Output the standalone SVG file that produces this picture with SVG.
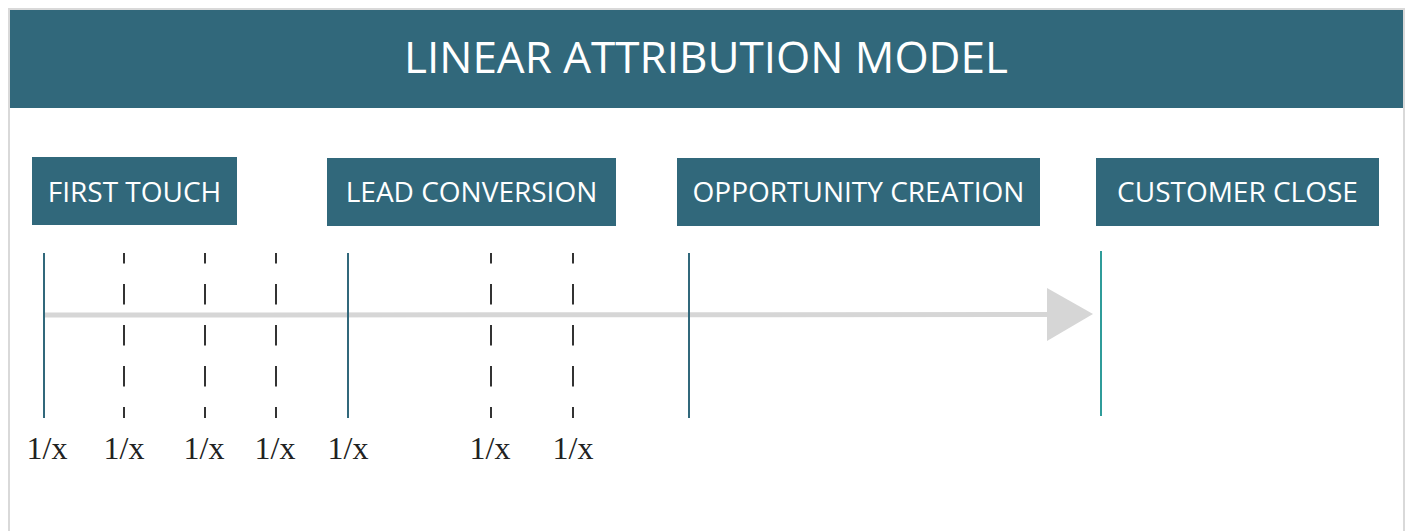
<svg xmlns="http://www.w3.org/2000/svg" width="1408" height="531" viewBox="0 0 1408 531">
  <style>
    .stage rect { fill: #31687b; }
    .stage text { fill: #ffffff; font-family: "Open Sans", "Liberation Sans", sans-serif; font-size: 28px; text-anchor: middle; }
    .mark { stroke: #31687b; stroke-width: 2; }
    .touch { stroke: #333333; stroke-width: 2; stroke-dasharray: 20.5 20.5; stroke-dashoffset: 10; }
    .share { fill: #222222; font-family: "Liberation Serif", serif; font-size: 32px; text-anchor: middle; }
  </style>

  <!-- card frame -->
  <rect x="9" y="9" width="1395" height="530" fill="#ffffff" stroke="#d9d9d9" stroke-width="2"/>

  <!-- title bar -->
  <g id="title">
    <rect x="10" y="10" width="1393" height="98" fill="#31687b"/>
    <text x="706" y="73" fill="#ffffff" font-family="Open Sans, Liberation Sans, sans-serif" font-size="44" text-anchor="middle">LINEAR ATTRIBUTION MODEL</text>
  </g>

  <!-- funnel stages -->
  <g id="first-touch" class="stage">
    <rect x="32" y="157" width="205" height="68"/>
    <text x="134.5" y="201.5">FIRST TOUCH</text>
  </g>
  <g id="lead-conversion" class="stage">
    <rect x="327" y="158" width="289" height="68"/>
    <text x="471.5" y="201.5">LEAD CONVERSION</text>
  </g>
  <g id="opportunity-creation" class="stage">
    <rect x="677" y="158" width="363" height="68"/>
    <text x="858.5" y="201.5">OPPORTUNITY CREATION</text>
  </g>
  <g id="customer-close" class="stage">
    <rect x="1096" y="158" width="283" height="68"/>
    <text x="1237.5" y="201.5">CUSTOMER CLOSE</text>
  </g>

  <!-- timeline and touchpoints -->
  <g id="connectors">
    <line x1="44" y1="315" x2="1050" y2="314.5" stroke="#d6d6d6" stroke-width="5"/>
    <polygon points="1047,288 1093,314 1047,341" fill="#d6d6d6"/>

    <line class="mark" x1="44" y1="253" x2="44" y2="418"/>
    <line class="mark" x1="348" y1="253" x2="348" y2="418"/>
    <line class="mark" x1="689" y1="253" x2="689" y2="418"/>
    <line x1="1101" y1="251" x2="1101" y2="416" stroke="#2f9c9a" stroke-width="2"/>

    <line class="touch" x1="124" y1="253" x2="124" y2="418"/>
    <line class="touch" x1="205" y1="253" x2="205" y2="418"/>
    <line class="touch" x1="276" y1="253" x2="276" y2="418"/>
    <line class="touch" x1="491" y1="253" x2="491" y2="418"/>
    <line class="touch" x1="573" y1="253" x2="573" y2="418"/>
  </g>

  <!-- equal credit per touch -->
  <g id="credit-labels">
    <text class="share" x="47" y="459">1/x</text>
    <text class="share" x="124" y="459">1/x</text>
    <text class="share" x="204" y="459">1/x</text>
    <text class="share" x="275" y="459">1/x</text>
    <text class="share" x="348" y="459">1/x</text>
    <text class="share" x="490" y="459">1/x</text>
    <text class="share" x="573" y="459">1/x</text>
  </g>
</svg>
